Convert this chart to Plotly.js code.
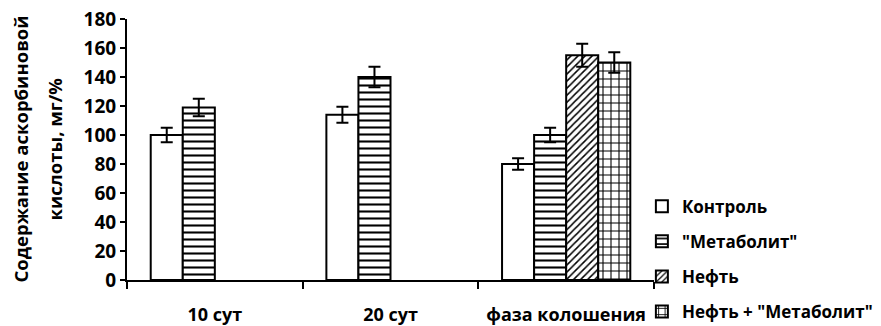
<!DOCTYPE html>
<html>
<head>
<meta charset="utf-8">
<script src="https://cdn.plot.ly/plotly-3.0.1.min.js"></script>
<style>html,body{margin:0;padding:0;background:#fff;}#chart{width:881px;height:326px;}</style>
</head>
<body>
<div id="chart"></div>
<script>
const categories = ["10 сут", "20 сут", "фаза колошения"];
const seriesNames = ["Контроль", "\"Метаболит\"", "Нефть", "Нефть + \"Метаболит\""];
const control = [100, 114, 80];
const controlErr = [5, 5.5, 4];
const metabolit = [119, 140, 100];
const metabolitErr = [6, 7, 5];
const neft = [null, null, 155];
const neftErr = [null, null, 8];
const neftMetabolit = [null, null, 150];
const neftMetabolitErr = [null, null, 7];
const yTicks = [0, 20, 40, 60, 80, 100, 120, 140, 160, 180];

const FONT = "Open Sans, sans-serif";
const patterns = [
  {shape: "", fgcolor: "black", bgcolor: "white"},
  {shape: "-", fgcolor: "black", bgcolor: "white", size: 7, solidity: 0.3},
  {shape: "/", fgcolor: "black", bgcolor: "white", size: 5, solidity: 0.3},
  {shape: "+", fgcolor: "black", bgcolor: "white", size: 8, solidity: 0.25}
];
const vals = [control, metabolit, neft, neftMetabolit];
const errs = [controlErr, metabolitErr, neftErr, neftMetabolitErr];

const traces = vals.map((v, i) => ({
  type: "bar",
  name: seriesNames[i],
  x: categories,
  y: v,
  legendgroup: "g" + i,
  marker: {color: "white", line: {color: "black", width: 2}, pattern: patterns[i]},
  error_y: {type: "data", array: errs[i], visible: true, color: "black", thickness: 2, width: 6}
}));

const layout = {
  width: 881, height: 326,
  margin: {l: 127, r: 227, t: 19, b: 46, autoexpand: false},
  paper_bgcolor: "white", plot_bgcolor: "white",
  font: {family: FONT, color: "black", size: 18, weight: 700},
  barmode: "group", bargap: 0.27, bargroupgap: 0,
  showlegend: true,
  legend: {x: 0.977, xanchor: "left", y: 0.35, yanchor: "top", traceorder: "grouped",
           tracegroupgap: 10, font: {family: FONT, size: 17, weight: 700, color: "black"},
           bgcolor: "rgba(0,0,0,0)"},
  xaxis: {type: "category", showline: true, linecolor: "black", linewidth: 2,
          ticks: "outside", tickson: "boundaries", ticklen: 7, tickwidth: 2, tickcolor: "black",
          ticklabelstandoff: 17, tickangle: 0, showgrid: false, zeroline: false,
          tickfont: {family: FONT, size: 18, weight: 700}},
  yaxis: {range: [0, 180], tickvals: yTicks, showline: true, linecolor: "black", linewidth: 2,
          ticks: "outside", ticklen: 5, tickwidth: 2, tickcolor: "black", showgrid: false, zeroline: false,
          tickfont: {family: FONT, size: 19, weight: 700}},
  annotations: [
    {text: "Содержание аскорбиновой", xref: "paper", yref: "paper", x: (20 - 127) / 527, y: 0.5,
     xanchor: "center", yanchor: "middle", textangle: -90, showarrow: false,
     font: {family: FONT, size: 18.5, weight: 700, color: "black"}},
    {text: "кислоты, мг/%", xref: "paper", yref: "paper", x: (54 - 127) / 527, y: 0.5,
     xanchor: "center", yanchor: "middle", textangle: -90, showarrow: false,
     font: {family: FONT, size: 18.5, weight: 700, color: "black"}}
  ]
};

Plotly.newPlot("chart", traces, layout, {displayModeBar: false, staticPlot: true});
</script>
</body>
</html>
